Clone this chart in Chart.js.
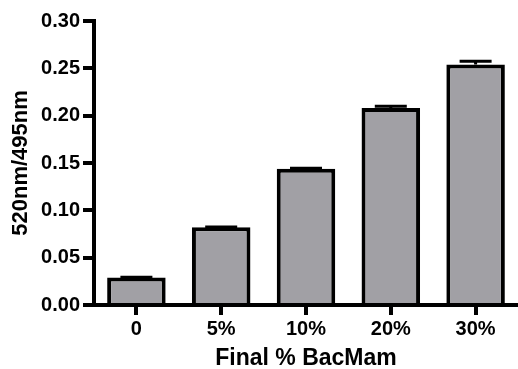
<!DOCTYPE html>
<html>
<head>
<meta charset="utf-8">
<script src="https://cdn.jsdelivr.net/npm/chart.js@4/dist/chart.umd.min.js"></script>
<style>
    html, body { margin: 0; padding: 0; background: #fff; }
    #wrap { width: 518px; height: 369px; }
</style>
</head>
<body>
<div id="wrap"><canvas id="chart" width="518" height="369"></canvas></div>
<script>
// ==================== ДАННЫЕ ====================
const categories = ['0', '5%', '10%', '20%', '30%'];
const ratioValues = [0.029, 0.082, 0.144, 0.208, 0.254];
const ratioErrors = [0.0003, 0.0003, 0.0005, 0.002, 0.0035];
const yTicks = [0, 0.05, 0.10, 0.15, 0.20, 0.25, 0.30];

const FONT = '"Liberation Sans", Arial, Helvetica, sans-serif';

// планки погрешностей
const errorBars = {
    id: 'errorBars',
    afterDatasetsDraw(chart) {
        const ctx = chart.ctx;
        const y = chart.scales.y;
        const meta = chart.getDatasetMeta(0);
        ctx.save();
        ctx.strokeStyle = '#000';
        ctx.lineWidth = 3;
        meta.data.forEach((bar, i) => {
            const top = y.getPixelForValue(ratioValues[i] + ratioErrors[i]);
            ctx.beginPath();
            ctx.moveTo(bar.x, bar.y);
            ctx.lineTo(bar.x, top);
            ctx.moveTo(bar.x - 16, top);
            ctx.lineTo(bar.x + 16, top);
            ctx.stroke();
        });
        ctx.restore();
    }
};

new Chart(document.getElementById('chart'), {
    type: 'bar',
    data: {
        labels: categories,
        datasets: [{
            data: ratioValues,
            backgroundColor: '#a1a0a5',
            borderColor: '#000',
            borderWidth: 4,
            categoryPercentage: 1,
            barPercentage: 0.69
        }]
    },
    options: {
        responsive: false,
        animation: false,
        layout: { padding: { top: 21, right: 0, left: 0, bottom: 0 } },
        plugins: {
            legend: { display: false },
            tooltip: { enabled: false }
        },
        scales: {
            x: {
                afterFit: s => { s.height = 64; },
                grid: {
                    offset: false,
                    drawOnChartArea: false,
                    color: '#000',
                    lineWidth: 4,
                    tickLength: 10
                },
                border: { color: '#000', width: 4 },
                ticks: {
                    color: '#000',
                    padding: 2,
                    font: { family: FONT, size: 20, weight: 'bold' }
                },
                title: {
                    display: true,
                    text: 'Final % BacMam',
                    color: '#000',
                    padding: 0,
                    font: { family: FONT, size: 23, weight: 'bold', lineHeight: 0.9 }
                }
            },
            y: {
                min: 0,
                max: 0.30,
                afterFit: s => { s.width = 94; },
                afterBuildTicks: s => { s.ticks = yTicks.map(v => ({ value: v })); },
                grid: {
                    drawOnChartArea: false,
                    color: '#000',
                    lineWidth: 4,
                    tickLength: 11
                },
                border: { color: '#000', width: 4 },
                ticks: {
                    color: '#000',
                    padding: 3,
                    font: { family: FONT, size: 20, weight: 'bold' },
                    callback: v => Number(v).toFixed(2)
                },
                title: {
                    display: true,
                    text: '520nm/495nm',
                    color: '#000',
                    padding: { top: 8, bottom: 0 },
                    font: { family: FONT, size: 22, weight: 'bold' }
                }
            }
        }
    },
    plugins: [errorBars]
});
</script>
</body>
</html>
